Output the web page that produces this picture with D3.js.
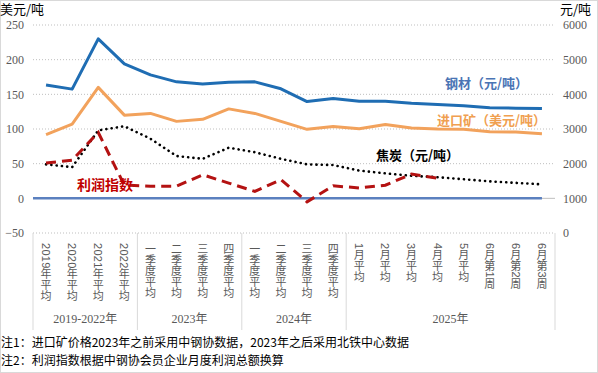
<!DOCTYPE html>
<html><head><meta charset="utf-8">
<script src="https://cdn.jsdelivr.net/npm/d3@7/dist/d3.min.js"></script>
<style>
html,body{margin:0;padding:0;background:#fff;}
svg{display:block;font-family:"Noto Sans CJK SC","Noto Sans",sans-serif;}
</style></head>
<body><svg id="c" width="598" height="373"></svg>
<script>
const categories = ["2019年平均","2020年平均","2021年平均","2022年平均",
  "一季度平均","二季度平均","三季度平均","四季度平均",
  "一季度平均","二季度平均","三季度平均","四季度平均",
  "1月平均","2月平均","3月平均","4月平均","5月平均","6月第1周","6月第2周","6月第3周"];
const groupLabels = ["2019-2022年","2023年","2024年","2025年"];
const groupSizes = [4,4,4,8];
const steel = [4270,4150,5600,4880,4560,4360,4300,4350,4360,4160,3790,3880,3800,3800,3740,3710,3670,3610,3600,3590];
const ore = [92,107,160,120,122.5,111,114,129,122.5,111,99.5,103.5,100.5,106.5,101.5,100,99.5,96,95.5,93];
const coke = [1980,1900,2960,3080,2720,2220,2140,2460,2330,2140,1980,1960,1800,1720,1650,1610,1550,1490,1446,1404];
const profit = [51,55,95,19,17.5,17.5,34,22,10,27,-5,18,15,19,35,29];
const leftTicks = [-50,0,50,100,150,200,250];
const rightTicks = [0,1000,2000,3000,4000,5000,6000];
const notes = ["注1：进口矿价格2023年之前采用中钢协数据，2023年之后采用北铁中心数据",
               "注2：利润指数根据中钢协会员企业月度利润总额换算"];

const svg = d3.select("#c");
const L = 33, R = 555, T = 25, B = 233;
const x = d3.scaleBand().domain(d3.range(categories.length)).range([L, R]).padding(0);
const cx = i => x(i) + x.bandwidth()/2;
const yL = d3.scaleLinear().domain([-50,250]).range([B,T]);
const yR = d3.scaleLinear().domain([0,6000]).range([B,T]);

svg.append("rect").attr("x",0.5).attr("y",0.5).attr("width",597).attr("height",372)
  .attr("fill","none").attr("stroke","#d9d9d9");

// grid
svg.append("g").selectAll("line").data(leftTicks.filter(d=>d!==0)).join("line")
  .attr("x1",L).attr("x2",R).attr("y1",d=>yL(d)).attr("y2",d=>yL(d))
  .attr("stroke","#bfbfbf").attr("stroke-width",1).attr("stroke-dasharray","1,2");
svg.append("line").attr("x1",L).attr("x2",R).attr("y1",yL(0)).attr("y2",yL(0))
  .attr("stroke","#bfbfbf").attr("stroke-width",1);

// left axis
const la = svg.append("g").attr("transform",`translate(${L-9},0)`)
  .call(d3.axisLeft(yL).tickValues(leftTicks).tickSize(0).tickPadding(0).tickFormat(d3.format("d")));
la.select(".domain").remove();
la.selectAll("text").attr("font-family","Liberation Serif").attr("font-size",12).attr("fill","#595959");
// right axis
const ra = svg.append("g").attr("transform",`translate(${R+8},0)`)
  .call(d3.axisRight(yR).tickValues(rightTicks).tickSize(0).tickPadding(0).tickFormat(d3.format("d")));
ra.select(".domain").remove();
ra.selectAll("text").attr("font-family","Liberation Serif").attr("font-size",12).attr("fill","#595959");

svg.append("text").attr("x",0).attr("y",14).attr("font-size",13).attr("fill","#000").text("美元/吨");
svg.append("text").attr("x",591).attr("y",14).attr("text-anchor","end").attr("font-size",13).attr("fill","#000").text("元/吨");

// category separators
const bounds = [0]; groupSizes.forEach((n,i)=>bounds.push(bounds[i]+n));
svg.append("g").selectAll("line").data(bounds).join("line")
  .attr("x1",d=> d<categories.length? x(d): R).attr("x2",d=> d<categories.length? x(d): R)
  .attr("y1",B).attr("y2",330).attr("stroke","#d9d9d9").attr("stroke-width",1);

// vertical labels: each glyph its own text; CJK upright, ASCII rotated
const fs = 11;
categories.forEach((lab,i)=>{
  const g = svg.append("g");
  let yy = 243;
  Array.from(lab).forEach(ch=>{
    if (/[\x00-\x7F]/.test(ch)) {
      const t = g.append("text").attr("font-size",fs).attr("fill","#595959")
        .attr("font-family","Liberation Sans")
        .attr("dominant-baseline","central")
        .attr("transform",`translate(${cx(i)},${yy}) rotate(90)`).text(ch);
      yy += t.node().getComputedTextLength() + 0.3;
    } else {
      g.append("text").attr("font-size",fs).attr("fill","#595959")
        .attr("text-anchor","middle").attr("x",cx(i)).attr("y",yy+fs*0.88).text(ch);
      yy += fs;
    }
  });
});
svg.append("g").selectAll("text").data(groupLabels).join("text")
  .attr("x",(d,i)=>{const a=x(bounds[i]); const b= bounds[i+1]<categories.length? x(bounds[i+1]):R; return (a+b)/2;})
  .attr("y",323).attr("text-anchor","middle").attr("font-size",12).attr("fill","#595959")
  .attr("font-family","Liberation Serif, Noto Sans CJK SC").text(d=>d);

// zero series line
svg.append("line").attr("x1",L).attr("x2",cx(categories.length-1)).attr("y1",yL(0)).attr("y2",yL(0))
  .attr("stroke","#5b80bf").attr("stroke-width",2.5);

const line = (yS) => d3.line().x((d,i)=>cx(i)).y(d=>yS(d));
svg.append("path").datum(coke).attr("d",line(yR)).attr("fill","none")
  .attr("stroke","#000").attr("stroke-width",2.6).attr("stroke-dasharray","0.1,5.2").attr("stroke-linecap","round");
svg.append("path").datum(ore).attr("d",line(yL)).attr("fill","none")
  .attr("stroke","#f2a25c").attr("stroke-width",3).attr("stroke-linejoin","round");
svg.append("path").datum(steel).attr("d",line(yR)).attr("fill","none")
  .attr("stroke","#1f6db3").attr("stroke-width",3).attr("stroke-linejoin","round");
svg.append("path").datum(profit).attr("d",line(yL)).attr("fill","none")
  .attr("stroke","#b41212").attr("stroke-width",3).attr("stroke-dasharray","10,6");

// series labels
svg.append("text").attr("x",445).attr("y",88).attr("font-size",13).attr("font-weight","bold").attr("fill","#4a74b4").text("钢材（元/吨）");
svg.append("text").attr("x",437).attr("y",125).attr("font-size",13).attr("font-weight","bold").attr("fill","#f0a050").text("进口矿（美元/吨）");
svg.append("text").attr("x",376).attr("y",160).attr("font-size",13).attr("font-weight","bold").attr("fill","#000").text("焦炭（元/吨）");
svg.append("text").attr("x",77).attr("y",190).attr("font-size",14).attr("font-weight","bold").attr("fill","#c00000").text("利润指数");

// notes
svg.append("g").selectAll("text").data(notes).join("text")
  .attr("x",1).attr("y",(d,i)=>347+i*18).attr("font-size",12).attr("fill","#000").text(d=>d);
</script></body></html>
